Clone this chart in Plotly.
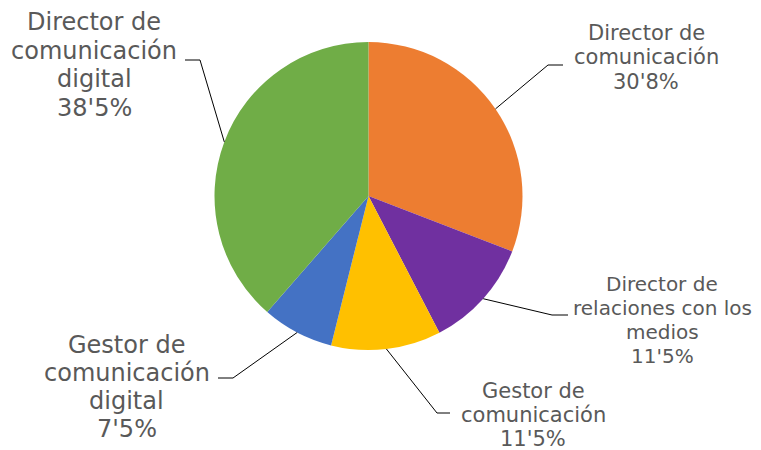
import math
import plotly.graph_objects as go

# ---- data ----
categories = [
    ["Director de", "comunicación"],
    ["Director de", "relaciones con los", "medios"],
    ["Gestor de", "comunicación"],
    ["Gestor de", "comunicación", "digital"],
    ["Director de", "comunicación", "digital"],
]
values = [30.8, 11.5, 11.5, 7.5, 38.5]
value_labels = ["30'8%", "11'5%", "11'5%", "7'5%", "38'5%"]

# ---- styling / layout ----
colors = ["#ED7D31", "#7030A0", "#FFC000", "#4472C4", "#70AD47"]
OFF = 8                      # page body margin
W, H = 761, 450
CX, CY, R = 368.5, 196, 154
# label centre x, first line y, line pitch, font size (px, in window coords)
label_x = [646, 662, 533, 127, 94]
label_y0 = [33, 284, 391, 345, 22]
label_pitch = [24.5, 24, 24, 28, 28.5]
label_size = [21, 20, 21, 24, 24]
elbows = [(548, 65), (552, 315), (437, 413), (233, 378), (200, 60)]
ends = [(563, 65), (568, 315), (450, 413), (218, 378), (185, 60)]
FONT = "DejaVu Sans"
TXT = "#595959"


def px(x):
    return (x - OFF) / W


def py(y):
    return 1 - (y - OFF) / H


fig = go.Figure(go.Pie(
    labels=[" ".join(c) for c in categories],
    values=values,
    sort=False,
    direction="clockwise",
    rotation=0,
    textinfo="none",
    hoverinfo="label+percent",
    marker=dict(colors=colors, line=dict(width=0)),
    domain=dict(x=[px(CX - R), px(CX + R)], y=[py(CY + R), py(CY - R)]),
    showlegend=False,
))

total = sum(values)
cum = 0
shapes = []
annotations = []
for i, v in enumerate(values):
    mid = (cum + v / 2) / total * 2 * math.pi
    cum += v
    sx = CX + R * math.sin(mid)
    sy = CY - R * math.cos(mid)
    ex, ey = elbows[i]
    hx, hy = ends[i]
    path = f"M {px(sx)} {py(sy)} L {px(ex)} {py(ey)} L {px(hx)} {py(hy)}"
    shapes.append(dict(type="path", xref="paper", yref="paper", path=path,
                       line=dict(color="#000000", width=1)))
    lines = categories[i] + [value_labels[i]]
    for j, line in enumerate(lines):
        annotations.append(dict(
            x=px(label_x[i]), y=py(label_y0[i] + j * label_pitch[i]),
            xref="paper", yref="paper",
            text=line, showarrow=False, align="center",
            xanchor="center", yanchor="middle",
            font=dict(family=FONT, size=label_size[i], color=TXT),
        ))

fig.update_layout(
    width=W, height=H,
    margin=dict(l=0, r=0, t=0, b=0),
    paper_bgcolor="white",
    plot_bgcolor="white",
    shapes=shapes,
    annotations=annotations,
)

fig.write_html("out.html")
